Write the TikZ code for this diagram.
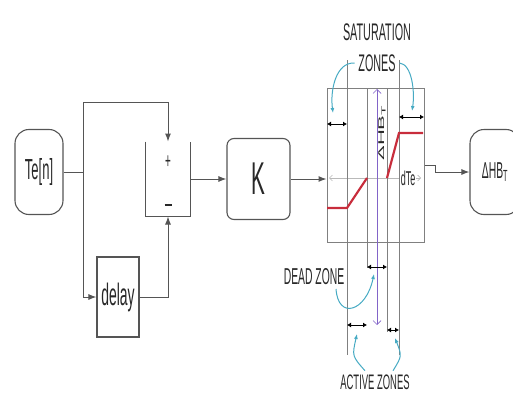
\documentclass[tikz,border=0pt]{standalone}
\usepackage{fontspec}
\newfontfamily\narrowsf[FakeStretch=0.45]{Liberation Sans}
\newfontfamily\plainsf{Liberation Sans}
\usepackage{tikz}
\usetikzlibrary{positioning, arrows.meta}
\definecolor{linegray}{RGB}{85, 85, 85}
\definecolor{textgray}{RGB}{40, 40, 40}
\definecolor{curvered}{RGB}{200, 45, 60}
\definecolor{zonecyan}{RGB}{70, 170, 195}
\definecolor{axispurple}{RGB}{130, 100, 200}

\begin{document}
\begin{tikzpicture}[x=1pt, y=-1pt, >={Latex[length=8pt, width=6pt]}, line width=1pt,
    block/.style={draw=linegray, line width=1.1pt, inner sep=0pt},
    zonearrow/.style={black, line width=0.8pt, {Latex[length=4pt, width=5pt]}-{Latex[length=4pt, width=5pt]}},
    cyanarrow/.style={zonecyan, line width=1pt, -{Latex[length=5pt, width=4pt]}},
    capfont/.style={font=\fontsize{#1}{#1}\narrowsf, text=textgray}]
    \useasboundingbox (0,0) rectangle (513,396);
    % signal chain
    \node[block, rounded corners=14pt, minimum width=48pt, minimum height=85pt, capfont=29] (ten) at (39,172) {Te[n]};
    \coordinate (split) at (83,172);
    \coordinate (ctop) at (83,102);
    \node[inner sep=0pt, minimum width=44pt, minimum height=74pt] (sum) at (168,179) {};
    \draw[linegray, line width=1.1pt] (sum.north west) |- (sum.south east) -- (sum.north east);
    \node[capfont=22] (plus) at (168,162) {+};
    \node[text=textgray] (minus) at (168,205) {\rule{7pt}{1.8pt}};
    \node[block, minimum width=42pt, minimum height=80pt, capfont=31] (delay) at (118,297) {delay};
    \node[block, rounded corners=7pt, minimum width=63pt, minimum height=81pt, capfont=46] (K) at (258.5,179) {K};
    \node[draw=gray, line width=1pt, minimum width=97pt, minimum height=154pt] (sat) at (375.5,165) {};
    \node[block, rounded corners=14pt, minimum width=50pt, minimum height=85pt, capfont=23] (dhb) at (495,172) {ΔHB\textsubscript{T}};
    \draw[linegray] (ten) -- (split);
    \draw[linegray, ->] (split) -- (ctop) -| (sum.north);
    \draw[linegray, ->] (split) |- (delay.west);
    \draw[linegray, ->] (delay.east) -| (sum.south);
    \draw[linegray, ->] (sum.east) -- (K.west);
    \draw[linegray, ->] (K.east) -- (K.east -| sat.west);
    \draw[linegray, ->] (sat.east) -- ++(11,0) |- (dhb.west);
    % saturation characteristic
    \draw[gray!55, line width=0.6pt, {Straight Barb[length=3pt]}-{Straight Barb[length=3pt]}] (329,178) -- (421,178);
    \foreach \x/\ya/\yb in {347/60/355, 367/88/268, 387/88/332, 399/60/355}
        \draw[gray, line width=0.5pt] (\x,\ya) -- (\x,\yb);
    \draw[curvered, line width=2.2pt] (327,208) -- (347,208) -- (367,178);
    \draw[curvered, line width=2.2pt] (387,178) -- (399,133) -- (423,133);
    \draw[axispurple, line width=0.7pt, {Straight Barb[length=4pt]}-{Straight Barb[length=4pt]}] (377,89) -- (377,325);
    \node[rotate=90, font=\fontsize{22}{22}\plainsf, text=textgray] (dhbaxis) at (382,133) {\scalebox{1}[0.38]{ΔHB\textsubscript{T}}};
    \node[fill=white, inner sep=1pt, capfont=20] (dte) at (408,178) {dTe};
    % zones
    \draw[zonearrow] (327,124) -- (347,124);
    \draw[zonearrow] (399,117) -- (424,117);
    \draw[zonearrow] (367,267) -- (387,267);
    \draw[zonearrow] (347,325) -- (367,325);
    \draw[zonearrow] (387,330) -- (399,330);
    \node[capfont=24] (satlabel) at (377,32) {SATURATION};
    \node[capfont=24] (zoneslabel) at (377,63) {ZONES};
    \node[capfont=23] (deadlabel) at (314,277) {DEAD ZONE};
    \node[capfont=21] (activelabel) at (375,382) {ACTIVE ZONES};
    \draw[cyanarrow] (zoneslabel.west) .. controls (336,62) and (330,90) .. (333,113);
    \draw[cyanarrow] (zoneslabel.east) .. controls (412,64) and (415,92) .. (412,111);
    \draw[cyanarrow] ([xshift=-12pt]deadlabel.south east) .. controls (338,320) and (366,312) .. (374,274);
    \draw[cyanarrow] ([xshift=-10pt]activelabel.north) .. controls (352,356) .. (357,334);
    \draw[cyanarrow] ([xshift=18pt]activelabel.north) .. controls (402,356) .. (395,338);
\end{tikzpicture}
\end{document}
